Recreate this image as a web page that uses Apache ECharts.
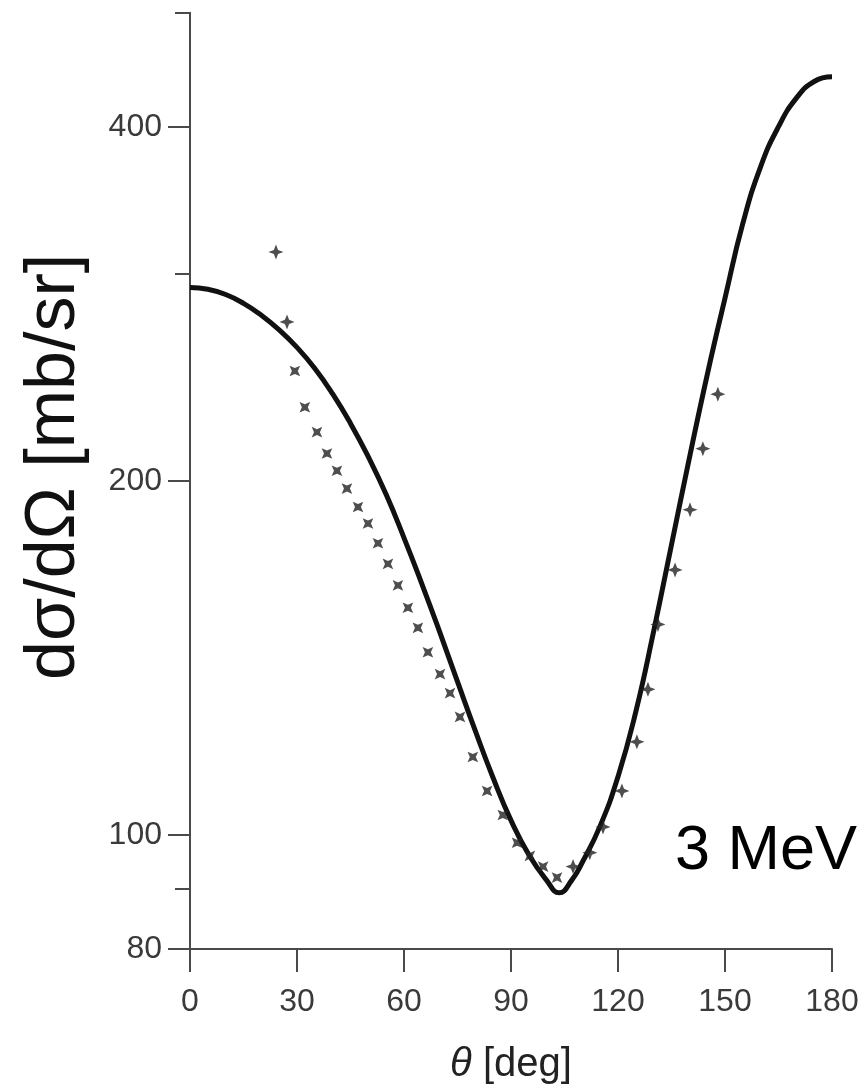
<!DOCTYPE html>
<html>
<head>
<meta charset="utf-8">
<script src="https://cdn.jsdelivr.net/npm/echarts@6/dist/echarts.min.js"></script>
<style>
  html, body { margin: 0; padding: 0; background: #ffffff; }
  #chart { width: 861px; height: 1086px; }
</style>
</head>
<body>
<div id="chart"></div>
<script>
// Theory curve (solid line): angle [deg] and cross section [mb/sr]
const curveTheta = [0, 5, 10, 15, 20, 25, 30, 35, 40, 45, 50, 55, 60, 65, 70, 75, 80, 85, 90, 95, 100, 103.5, 107, 110, 115, 120, 125, 130, 135, 140, 145, 150, 155, 160, 165, 170, 175, 180];
const curveSigma = [292, 291, 288, 283.1, 276.6, 268.8, 259.7, 249.2, 237.1, 223.8, 209.6, 194.7, 178.9, 163.5, 148.8, 135.0, 122.6, 111.8, 102.9, 96.2, 91.5, 89.3, 91.5, 94.8, 101.8, 112.1, 127.3, 149, 176.5, 209, 246, 286, 331, 370, 400, 423, 437, 441];

// Measured points (+ markers)
const dataTheta = [24.1, 27.2, 29.4, 32.2, 35.6, 38.4, 41.2, 44.0, 47.1, 49.9, 52.7, 55.5, 58.3, 61.1, 63.9, 66.7, 70.1, 72.9, 75.7, 79.3, 83.3, 87.7, 91.7, 95.3, 99.0, 102.9, 107.4, 112.1, 115.8, 121.1, 125.3, 128.4, 131.2, 136.0, 140.2, 143.8, 148.0];
const dataSigma = [313, 273, 248, 231, 220, 211, 204, 197, 190, 184, 177, 170, 163, 156, 150, 143, 137, 132, 126, 116.5, 109, 104, 98.5, 96, 94, 92, 94, 96.6, 101.6, 109, 120, 133, 151, 168, 189, 213, 237];

// Axis ticks
const xTicks = [0, 30, 60, 90, 120, 150, 180];
const yLabelTicks = [80, 100, 200, 400];
const yMinorTicks = [90, 300, 500];
const annotation = '3 MeV';

const FONT = '"Liberation Sans", Arial, Helvetica, sans-serif';
const AXIS_COLOR = '#4a4a4a';
const LABEL_COLOR = '#3a3a3a';

const chart = echarts.init(document.getElementById('chart'), null, { renderer: 'canvas' });

const curveData = curveTheta.map((t, i) => [t, curveSigma[i]]);
const pointData = dataTheta.map((t, i) => [t, dataSigma[i]]);

const starPath = 'path://M0,-10 L2.8,-2.8 L10,0 L2.8,2.8 L0,10 L-2.8,2.8 L-10,0 L-2.8,-2.8 Z';

chart.setOption({
  animation: false,
  backgroundColor: '#ffffff',
  grid: { left: 190, right: 29, top: 12.7, bottom: 137, containLabel: false, outerBoundsMode: 'none' },
  xAxis: {
    type: 'value',
    min: xTicks[0],
    max: xTicks[xTicks.length - 1],
    interval: 30,
    name: '{i|θ} [deg]',
    nameLocation: 'middle',
    nameGap: 96,
    nameTextStyle: {
      fontFamily: FONT, fontSize: 40, color: '#222',
      rich: { i: { fontFamily: FONT, fontSize: 40, fontStyle: 'italic', color: '#222' } }
    },
    axisLine: { show: true, lineStyle: { color: AXIS_COLOR, width: 2 } },
    axisTick: { show: true, inside: false, length: 23, lineStyle: { color: AXIS_COLOR, width: 2 } },
    axisLabel: { show: true, margin: 37, fontFamily: FONT, fontSize: 32, lineHeight: 32, color: LABEL_COLOR },
    splitLine: { show: false }
  },
  yAxis: [
    {
      type: 'log',
      logBase: 10,
      min: 80,
      max: 500,
      position: 'left',
      name: 'dσ/dΩ [mb/sr]',
      nameLocation: 'middle',
      nameGap: 100,
      nameRotate: 90,
      nameTextStyle: { fontFamily: FONT, fontSize: 70, color: '#111', padding: [0, 0, 0, 28] },
      axisLine: { show: true, lineStyle: { color: AXIS_COLOR, width: 2 } },
      axisTick: { show: true, inside: false, length: 22, customValues: yLabelTicks, lineStyle: { color: AXIS_COLOR, width: 2 } },
      axisLabel: { show: true, margin: 28, customValues: yLabelTicks, fontFamily: FONT, fontSize: 32, color: LABEL_COLOR },
      minorTick: { show: false },
      splitLine: { show: false }
    },
    {
      type: 'log',
      logBase: 10,
      min: 80,
      max: 500,
      position: 'left',
      offset: 0,
      axisLine: { show: false },
      axisTick: { show: true, inside: false, length: 15, customValues: yMinorTicks, lineStyle: { color: AXIS_COLOR, width: 2 } },
      axisLabel: { show: false },
      splitLine: { show: false }
    }
  ],
  graphic: [
    {
      type: 'text',
      left: 675,
      top: 820,
      style: { text: annotation, fontFamily: FONT, fontSize: 63, fill: '#000' }
    }
  ],
  series: [
    {
      type: 'line',
      yAxisIndex: 0,
      data: curveData,
      smooth: 0.5,
      showSymbol: false,
      lineStyle: { color: '#111', width: 5 },
      z: 2
    },
    {
      type: 'scatter',
      yAxisIndex: 0,
      data: pointData,
      symbol: starPath,
      symbolSize: 15,
      symbolRotate: function (val) { return (val[0] > 28 && val[0] < 105) ? 45 : 0; },
      itemStyle: { color: '#222' },
      z: 3
    }
  ]
});
</script>
</body>
</html>
